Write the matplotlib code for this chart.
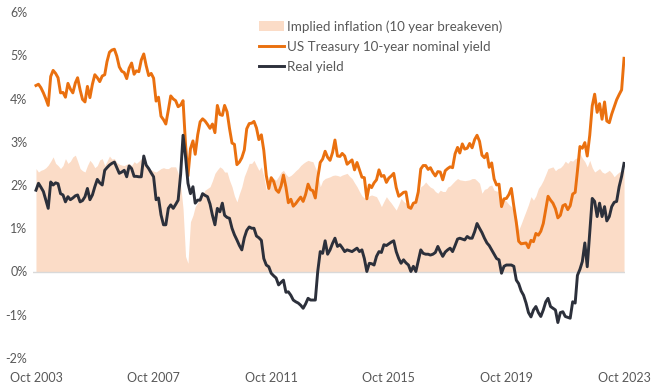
import matplotlib
matplotlib.use('Agg')
import matplotlib.pyplot as plt
import matplotlib.dates as mdates
from matplotlib.patches import Patch
from matplotlib.lines import Line2D
import pandas as pd

plt.rcParams['font.family'] = ['Lato', 'DejaVu Sans']

# monthly, Oct 2003 .. Oct 2023
months = pd.date_range('2003-10-01', periods=241, freq='MS')

# US Treasury 10-year nominal yield (%)
nominal = [
    4.30, 4.33, 4.25,
    4.13, 3.99, 3.84, 4.51, 4.65, 4.58, 4.48, 4.13, 4.14, 4.03, 4.35, 4.22,  # 2004
    4.13, 4.36, 4.48, 4.20, 3.98, 3.92, 4.28, 4.02, 4.33, 4.55, 4.48, 4.39,  # 2005
    4.52, 4.55, 4.85, 5.07, 5.12, 5.14, 4.98, 4.73, 4.63, 4.60, 4.46, 4.70,  # 2006
    4.82, 4.56, 4.64, 4.62, 4.89, 5.03, 4.76, 4.53, 4.58, 4.47, 3.94, 4.03,  # 2007
    3.59, 3.51, 3.41, 3.73, 4.06, 3.99, 3.95, 3.81, 3.85, 3.95, 2.93, 2.21,  # 2008
    2.84, 3.02, 2.71, 3.16, 3.46, 3.53, 3.48, 3.40, 3.31, 3.41, 3.21, 3.84,  # 2009
    3.63, 3.61, 3.84, 3.69, 3.31, 2.97, 2.94, 2.47, 2.53, 2.63, 2.81, 3.30,  # 2010
    3.42, 3.43, 3.47, 3.32, 3.05, 3.16, 2.80, 2.22, 1.92, 2.17, 2.08, 1.89,  # 2011
    1.83, 1.98, 2.23, 1.95, 1.59, 1.67, 1.51, 1.57, 1.65, 1.72, 1.62, 1.78,  # 2012
    2.02, 1.89, 1.87, 1.70, 2.16, 2.52, 2.60, 2.78, 2.64, 2.57, 2.75, 3.04,  # 2013
    2.67, 2.66, 2.73, 2.67, 2.48, 2.53, 2.58, 2.35, 2.52, 2.35, 2.18, 2.17,  # 2014
    1.68, 2.00, 1.94, 2.05, 2.12, 2.35, 2.20, 2.22, 2.06, 2.16, 2.21, 2.27,  # 2015
    1.94, 1.74, 1.78, 1.83, 1.84, 1.49, 1.46, 1.58, 1.60, 1.84, 2.37, 2.45,  # 2016
    2.45, 2.36, 2.40, 2.29, 2.21, 2.31, 2.30, 2.12, 2.33, 2.38, 2.42, 2.40,  # 2017
    2.72, 2.87, 2.74, 2.95, 2.83, 2.85, 2.96, 2.86, 3.05, 3.15, 3.01, 2.69,  # 2018
    2.63, 2.73, 2.41, 2.51, 2.14, 2.00, 2.02, 1.50, 1.68, 1.69, 1.78, 1.92,  # 2019
    1.51, 1.13, 0.70, 0.64, 0.65, 0.66, 0.55, 0.72, 0.69, 0.88, 0.84, 0.93,  # 2020
    1.11, 1.44, 1.74, 1.65, 1.58, 1.45, 1.24, 1.30, 1.52, 1.55, 1.43, 1.52,  # 2021
    1.79, 1.83, 2.32, 2.89, 2.85, 2.98, 2.67, 3.15, 3.83, 4.10, 3.68, 3.88,  # 2022
    3.52, 3.92, 3.48, 3.44, 3.64, 3.81, 3.97, 4.09, 4.20, 4.93,              # 2023
]

# real yield (%)
real = [
    1.88, 2.04, 1.95,
    1.85, 1.65, 1.46, 2.07, 2.00, 2.05, 2.03, 1.80, 1.77, 1.61, 1.73, 1.66,
    1.70, 1.75, 1.77, 1.61, 1.64, 1.73, 1.92, 1.66, 1.77, 1.96, 2.13, 2.05,
    2.00, 2.34, 2.40, 2.46, 2.50, 2.53, 2.40, 2.27, 2.30, 2.34, 2.19, 2.44,
    2.38, 2.20, 2.20, 2.19, 2.19, 2.67, 2.46, 2.38, 2.28, 2.19, 1.66, 1.70,
    1.31, 1.08, 1.08, 1.46, 1.54, 1.46, 1.55, 1.65, 2.25, 3.15, 2.65, 2.04,
    1.80, 1.96, 1.58, 1.65, 1.65, 1.80, 1.76, 1.73, 1.56, 1.30, 1.08, 1.46,
    1.38, 1.58, 1.30, 1.25, 1.23, 1.00, 0.85, 0.73, 0.60, 0.50, 0.78, 0.95,
    1.03, 1.00, 1.00, 0.82, 0.78, 0.72, 0.30, 0.15, 0.11, -0.04, -0.10, -0.15,
    -0.31, -0.25, -0.20, -0.48, -0.47, -0.55, -0.66, -0.70, -0.73, -0.78, -0.85, -0.75,
    -0.62, -0.66, -0.66, -0.66, 0.00, 0.46, 0.42, 0.71, 0.40, 0.50, 0.65, 0.77,
    0.58, 0.62, 0.55, 0.46, 0.50, 0.48, 0.46, 0.50, 0.54, 0.46, 0.50, 0.30,
    0.00, 0.19, 0.18, 0.15, 0.35, 0.46, 0.44, 0.62, 0.60, 0.64, 0.68, 0.71,
    0.46, 0.30, 0.19, 0.27, 0.20, 0.15, 0.00, 0.12, 0.00, 0.25, 0.50, 0.42,
    0.40, 0.40, 0.38, 0.40, 0.44, 0.58, 0.46, 0.35, 0.45, 0.50, 0.54, 0.46,
    0.60, 0.75, 0.77, 0.75, 0.73, 0.81, 0.77, 0.77, 0.92, 1.11, 1.00, 0.90,
    0.77, 0.66, 0.60, 0.50, 0.40, 0.30, 0.27, -0.04, 0.12, 0.15, 0.15, 0.15,
    0.12, -0.20, -0.28, -0.45, -0.55, -0.73, -0.95, -1.05, -0.89, -0.81, -0.95, -1.04,
    -0.89, -0.70, -0.62, -0.81, -0.85, -0.89, -1.18, -0.95, -0.93, -1.04, -1.06, -1.08,
    -0.70, -0.73, -0.09, 0.05, 0.23, 0.66, 0.11, 0.90, 1.69, 1.62, 1.27, 1.58,
    1.27, 1.50, 1.17, 1.27, 1.50, 1.60, 1.62, 1.96, 2.20, 2.50,
]

# implied inflation, 10 year breakeven (%)
breakeven = [
    2.38, 2.30, 2.34,
    2.36, 2.40, 2.46, 2.55, 2.65, 2.50, 2.45, 2.38, 2.45, 2.61, 2.50, 2.55,
    2.65, 2.69, 2.55, 2.38, 2.33, 2.30, 2.45, 2.57, 2.50, 2.40, 2.45, 2.58,
    2.61, 2.45, 2.55, 2.67, 2.60, 2.61, 2.52, 2.48, 2.46, 2.45, 2.48, 2.50,
    2.45, 2.54, 2.50, 2.55, 2.61, 2.55, 2.45, 2.38, 2.35, 2.32, 2.30, 2.34,
    2.38, 2.40, 2.38, 2.38, 2.42, 2.42, 2.42, 2.27, 2.00, 1.45, 0.35, 0.19,
    1.15, 1.30, 1.50, 1.60, 1.69, 1.78, 1.88, 1.92, 1.96, 2.10, 2.27, 2.35,
    2.42, 2.38, 2.30, 2.30, 2.11, 1.96, 1.75, 1.61, 1.80, 1.96, 2.20, 2.34,
    2.50, 2.50, 2.57, 2.45, 2.34, 2.42, 2.20, 1.88, 2.00, 2.19, 2.15, 2.11,
    2.20, 2.30, 2.34, 2.25, 2.19, 2.22, 2.27, 2.33, 2.38, 2.45, 2.50, 2.54,
    2.57, 2.55, 2.54, 2.40, 2.27, 1.96, 2.10, 2.15, 2.17, 2.19, 2.22, 2.23,
    2.22, 2.20, 2.23, 2.25, 2.27, 2.20, 2.15, 2.05, 1.96, 1.85, 1.75, 1.70,
    1.69, 1.75, 1.77, 1.75, 1.73, 1.62, 1.50, 1.62, 1.73, 1.65, 1.58, 1.50,
    1.42, 1.55, 1.69, 1.62, 1.58, 1.52, 1.50, 1.55, 1.60, 1.80, 1.96, 2.00,
    2.07, 2.00, 1.95, 1.92, 1.85, 1.81, 1.88, 1.85, 1.85, 1.95, 1.98, 2.04,
    2.10, 2.15, 2.12, 2.11, 2.10, 2.11, 2.12, 2.15, 2.15, 2.10, 2.04, 1.81,
    1.90, 1.92, 1.98, 2.00, 1.88, 1.86, 1.85, 1.61, 1.69, 1.62, 1.55, 1.50,
    1.40, 1.27, 0.96, 1.10, 1.25, 1.40, 1.55, 1.73, 1.65, 1.75, 1.92, 2.00,
    2.11, 2.25, 2.38, 2.40, 2.42, 2.33, 2.38, 2.40, 2.46, 2.55, 2.50, 2.57,
    2.55, 2.61, 2.63, 2.73, 2.62, 2.54, 2.42, 2.57, 2.40, 2.30, 2.34, 2.38,
    2.30, 2.27, 2.30, 2.34, 2.28, 2.19, 2.25, 2.30, 2.32, 2.34,
]

yticks = [-2, -1, 0, 1, 2, 3, 4, 5, 6]
xtick_dates = pd.date_range('2003-10-01', '2023-10-01', freq='48MS')

c_fill = '#fbdcc7'
c_nom = '#ea700f'
c_real = '#2c303b'
c_text = '#595959'

fig = plt.figure(figsize=(6.6, 3.89), dpi=100)
ax = fig.add_axes([33 / 660, 1 - 358 / 389, 592 / 660, 346 / 389])

ax.fill_between(months, 0, breakeven, color=c_fill, linewidth=0, zorder=1)
ax.axhline(0, color='#d9d9d9', linewidth=1, zorder=2)
ax.plot(months, nominal, color=c_nom, linewidth=2.1, zorder=3)
ax.plot(months, real, color=c_real, linewidth=2.1, zorder=4)

ax.set_ylim(-2, 6)
ax.set_yticks(yticks)
ax.set_yticklabels([f'{v}%' for v in yticks])
ax.set_xlim(months[0] - pd.Timedelta(days=37), months[-1] + pd.Timedelta(days=12))
ax.set_xticks(xtick_dates)
ax.xaxis.set_major_formatter(mdates.DateFormatter('Oct %Y'))

for s in ax.spines.values():
    s.set_visible(False)
ax.tick_params(axis='both', length=0, colors=c_text, labelsize=9)
ax.tick_params(axis='x', pad=10)
ax.tick_params(axis='y', pad=4)

handles = [
    Patch(facecolor=c_fill, edgecolor='none'),
    Line2D([], [], color=c_nom, linewidth=2.1),
    Line2D([], [], color=c_real, linewidth=2.1),
]
labels = ['Implied inflation (10 year breakeven)',
          'US Treasury 10-year nominal yield',
          'Real yield']
leg = fig.legend(handles, labels, loc='upper left', bbox_to_anchor=(0.385, 0.962),
                 frameon=False, fontsize=9.6, handlelength=1.85, handletextpad=0.2,
                 labelspacing=0.6, borderaxespad=0)
for t in leg.get_texts():
    t.set_color(c_text)

fig.savefig('out.png', dpi=100)
